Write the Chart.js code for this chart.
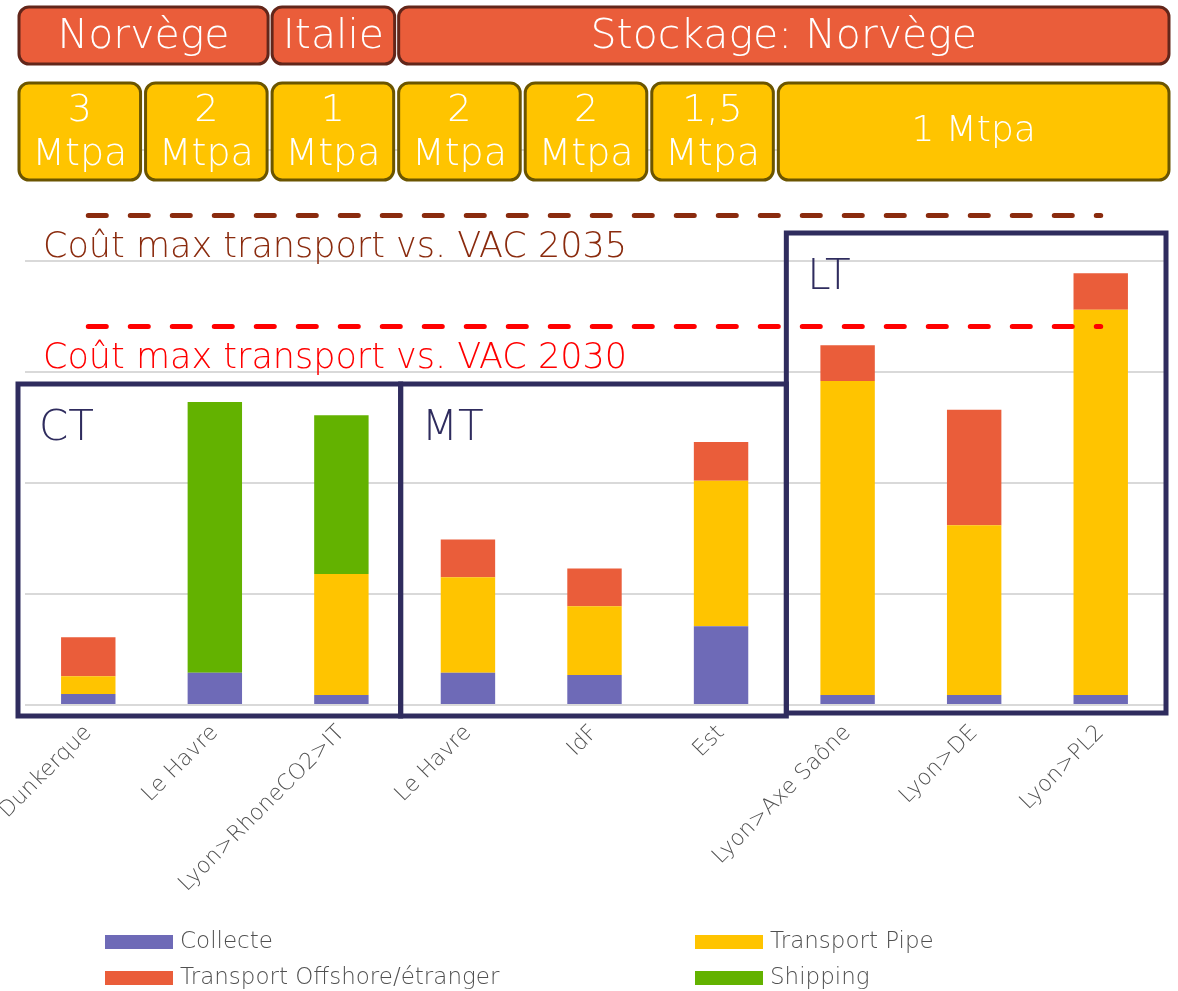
<!DOCTYPE html>
<html>
<head>
<meta charset="utf-8">
<script src="https://cdn.jsdelivr.net/npm/chart.js@4/dist/chart.umd.min.js"></script>
<style>
html,body{margin:0;padding:0;background:#fff;overflow:hidden;}
#c{display:block;}
</style>
</head>
<body>
<canvas id="c" width="1178" height="991"></canvas>
<script>
// ---- data ----
const categories = ['Dunkerque','Le Havre','Lyon>RhoneCO2>IT','Le Havre','IdF','Est','Lyon>Axe Saône','Lyon>DE','Lyon>PL2'];
const collecte          = [1.0, 2.9, 0.9, 2.9, 2.7, 7.1, 0.9, 0.9, 0.9];
const transportPipe     = [1.6, 0,  10.9, 8.6, 6.2, 13.1, 28.3, 15.3, 34.7];
const transportOffshore = [3.5, 0,   0,   3.4, 3.4, 3.5, 3.2, 10.4, 3.3];
const shipping          = [0,  24.4, 14.3, 0,  0,   0,   0,   0,   0];
const seriesNames = ['Collecte','Transport Pipe','Transport Offshore/étranger','Shipping'];
const yMax = 50, yStep = 10;
const vac2035 = 44.1, vac2030 = 34.1;
const vacLabels = ['Coût max transport vs. VAC 2035','Coût max transport vs. VAC 2030'];
const storageGroups = [
  {label:'Norvège', from:0, to:1},
  {label:'Italie', from:2, to:2},
  {label:'Stockage: Norvège', from:3, to:8}
];
const capacityGroups = [
  {label:['3','Mtpa'], from:0, to:0},
  {label:['2','Mtpa'], from:1, to:1},
  {label:['1','Mtpa'], from:2, to:2},
  {label:['2','Mtpa'], from:3, to:3},
  {label:['2','Mtpa'], from:4, to:4},
  {label:['1,5','Mtpa'], from:5, to:5},
  {label:['1 Mtpa'], from:6, to:8}
];
const horizonGroups = [
  {label:'CT', from:0, to:2},
  {label:'MT', from:3, to:5},
  {label:'LT', from:6, to:8}
];

// ---- styles ----
const FONT = '"DejaVu Sans", sans-serif';
const W = '200 ';
const colors = ['#6E6AB7','#FFC400','#EA5D3A','#63B200'];
const horizonStyle = {
  CT:{top:384, bottom:716, dl:-7, dr:-4},
  MT:{top:384, bottom:716, dl:-4, dr:2},
  LT:{top:233, bottom:713, dl:2, dr:2}
};

const overlay = {
  id:'overlay',
  afterDatasetsDraw(chart){
    const ctx = chart.ctx;
    const xs = chart.scales.x, ys = chart.scales.y;
    const step = xs.getPixelForValue(1) - xs.getPixelForValue(0);
    const leftOf = i => xs.getPixelForValue(i) - step/2;
    const rightOf = i => xs.getPixelForValue(i) + step/2;
    ctx.save();
    // horizon boxes
    ctx.strokeStyle = '#2F2C5E';
    ctx.lineWidth = 5;
    horizonGroups.forEach(g => {
      const st = horizonStyle[g.label];
      const x0 = leftOf(g.from) + st.dl, x1 = rightOf(g.to) + st.dr;
      ctx.strokeRect(x0, st.top, x1 - x0, st.bottom - st.top);
      ctx.fillStyle = '#2F2C5E';
      ctx.font = W + '42px ' + FONT;
      ctx.textAlign = 'left';
      ctx.textBaseline = 'alphabetic';
      ctx.fillText(g.label, x0 + 21, st.top + 56);
    });
    // dashed lines
    const xa = xs.getPixelForValue(0), xb = xs.getPixelForValue(categories.length-1);
    [[vac2035,'#8A2B0E', vacLabels[0]],[vac2030,'#FF0000', vacLabels[1]]].forEach(([v,col,lab]) => {
      const y = ys.getPixelForValue(v);
      ctx.strokeStyle = col;
      ctx.lineWidth = 5;
      ctx.lineCap = 'round';
      ctx.setLineDash([18, 24]);
      ctx.beginPath();
      ctx.moveTo(xa, y);
      ctx.lineTo(xb, y);
      ctx.stroke();
      ctx.setLineDash([]);
      ctx.fillStyle = col;
      ctx.font = W + '35px ' + FONT;
      ctx.textAlign = 'left';
      ctx.textBaseline = 'alphabetic';
      ctx.fillText(lab, 43, y + 42);
    });
    // top boxes
    const drawBox = (x0, x1, y0, y1, fill, stroke) => {
      ctx.beginPath();
      ctx.roundRect(x0, y0, x1 - x0, y1 - y0, 10);
      ctx.fillStyle = fill;
      ctx.fill();
      ctx.lineWidth = 3;
      ctx.strokeStyle = stroke;
      ctx.stroke();
    };
    storageGroups.forEach((g, k) => {
      let x0 = leftOf(g.from) - 6, x1 = rightOf(g.to) - 10;
      if (k === 0) x0 = leftOf(g.from) - 6;
      if (k === storageGroups.length-1) x1 = rightOf(g.to) + 5;
      drawBox(x0, x1, 7, 64, '#EA5D3A', '#62261A');
      ctx.fillStyle = '#FFFFFF';
      ctx.font = W + '41px ' + FONT;
      ctx.textAlign = 'center';
      ctx.textBaseline = 'middle';
      ctx.fillText(g.label, (x0 + x1)/2, 37);
    });
    capacityGroups.forEach((g, k) => {
      let x0 = leftOf(g.from) - 6, x1 = rightOf(g.to) - 11;
      if (k === capacityGroups.length-1) x1 = rightOf(g.to) + 5;
      drawBox(x0, x1, 83, 180, '#FFC400', '#6B5500');
      ctx.fillStyle = '#FFFFFF';
      ctx.textAlign = 'center';
      ctx.textBaseline = 'middle';
      const cx = (x0 + x1)/2;
      if (g.label.length === 2) {
        ctx.font = W + '38px ' + FONT;
        ctx.fillText(g.label[0], cx, 111);
        ctx.fillText(g.label[1], cx, 155);
      } else {
        ctx.font = W + '36px ' + FONT;
        ctx.fillText(g.label[0], cx, 132);
      }
    });
    // legend
    const pos = [[105,942],[695,942],[105,978],[695,978]];
    chart.data.datasets.forEach((ds, i) => {
      const [lx, ly] = pos[i];
      ctx.fillStyle = ds.backgroundColor;
      ctx.fillRect(lx, ly - 7, 68, 14);
      ctx.fillStyle = '#505050';
      ctx.font = W + '23px ' + FONT;
      ctx.textAlign = 'left';
      ctx.textBaseline = 'middle';
      ctx.fillText(ds.label, lx + 75, ly);
    });
    ctx.restore();
  }
};

const seriesData = [collecte, transportPipe, transportOffshore, shipping];
new Chart(document.getElementById('c'), {
  type:'bar',
  data:{
    labels: categories,
    datasets: seriesData.map((d, i) => ({
      label: seriesNames[i],
      data: d,
      backgroundColor: colors[i],
      borderWidth: 0,
      barPercentage: 0.43,
      categoryPercentage: 1.0
    }))
  },
  options:{
    responsive:false,
    devicePixelRatio:1,
    animation:false,
    layout:{padding:{top:150,left:25,right:14,bottom:0}},
    plugins:{legend:{display:false}, tooltip:{enabled:false}},
    scales:{
      x:{
        stacked:true,
        grid:{display:false, drawTicks:false},
        border:{display:false},
        ticks:{color:'#505050', font:{size:22, family:FONT, weight:'200'}, maxRotation:45, minRotation:45, padding:15, autoSkip:false},
        afterFit: s => { s.paddingLeft = 0; s.paddingRight = 0; s.height = 286; }
      },
      y:{
        stacked:true,
        min:0, max:yMax,
        ticks:{display:false, stepSize:yStep},
        grid:{color:'#D9D9D9', lineWidth:2, drawTicks:false},
        border:{display:false},
        afterFit: s => { s.width = 0; }
      }
    }
  },
  plugins:[overlay]
});
</script>
</body>
</html>
